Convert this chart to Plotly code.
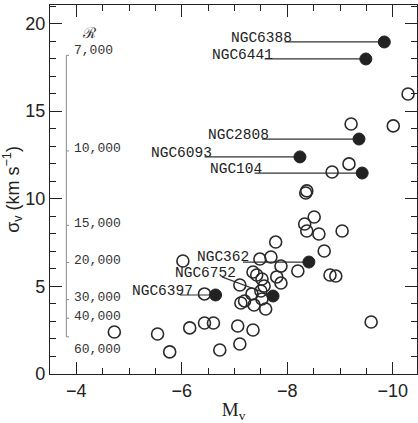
import plotly.graph_objects as go

# ---------------- data ----------------
# open circles: absolute magnitude M_V and velocity dispersion sigma_v (km/s)
open_mv = [-10.29, -9.21, -10.01, -9.17, -8.85, -8.35, -8.37, -8.51, -8.33, -8.37,
           -8.60, -9.04, -7.78, -8.70, -7.69, -7.48, -7.88, -8.20, -8.81, -8.92,
           -7.35, -7.42, -7.52, -7.80, -7.88, -7.10, -7.56, -7.33, -7.50, -7.52,
           -7.19, -7.12, -7.37, -7.59, -6.43, -6.43, -6.60, -7.06, -7.35, -7.10,
           -6.72, -4.72, -5.54, -5.77, -6.15, -6.02, -9.59]
open_sig = [15.98, 14.27, 14.16, 11.99, 11.53, 10.33, 10.45, 8.96, 8.56, 8.16,
            7.99, 8.16, 7.53, 7.02, 6.68, 6.56, 6.16, 5.88, 5.65, 5.59,
            5.82, 5.65, 5.42, 5.54, 5.19, 5.08, 5.02, 4.57, 4.74, 4.28,
            4.17, 4.05, 3.94, 3.71, 4.57, 2.91, 2.91, 2.74, 2.51, 1.71,
            1.37, 2.40, 2.28, 1.26, 2.63, 6.45, 2.97]

# labelled clusters (filled circles)
named = ["NGC6388", "NGC6441", "NGC2808", "NGC6093", "NGC104", "NGC362", "NGC6752", "NGC6397"]
named_mv = [-9.84, -9.49, -9.36, -8.24, -9.42, -8.41, -7.73, -6.64]
named_sig = [18.95, 17.98, 13.41, 12.39, 11.47, 6.39, 4.45, 4.51]

# resolving-power scale R = c / (2.355 sigma)
r_values = [7000, 10000, 15000, 20000, 30000, 40000, 60000]
r_labels = ["7,000", "10,000", "15,000", "20,000", "30,000", "40,000", "60,000"]
C_KMS = 299792.458

x_ticks = [-4, -6, -8, -10]
x_tick_text = ["\u22124", "\u22126", "\u22128", "\u221210"]
y_ticks = [0, 5, 10, 15, 20]

# ---------------- layout helpers (positions only) ----------------
# label text right-end (M_V), label baseline (sigma), leader start (M_V, sigma)
label_pos = {
    "NGC6388": (-8.11, 18.95, -7.95, 18.95),
    "NGC6441": (-7.75, 17.98, -7.57, 17.98),
    "NGC2808": (-7.67, 13.41, -7.52, 13.41),
    "NGC6093": (-6.59, 12.39, -6.43, 12.39),
    "NGC104":  (-7.54, 11.47, -7.38, 11.47),
    "NGC362":  (-7.29, 6.45, -7.16, 6.39),
    "NGC6752": (-7.04, 5.55, -6.76, 5.54),
    "NGC6397": (-6.24, 4.51, -5.96, 4.51),
}
INK = "#222222"

fig = go.Figure()

# leader lines
for name, mv, sg in zip(named, named_mv, named_sig):
    tx, ty, lx, ly = label_pos[name]
    fig.add_trace(go.Scatter(x=[lx, mv], y=[ly, sg], mode="lines",
                             line=dict(color="#333333", width=1.2),
                             hoverinfo="skip", showlegend=False))
    fig.add_annotation(x=tx, y=ty, xref="x", yref="y", text=name,
                       showarrow=False, xanchor="right", yanchor="bottom",
                       yshift=-5, borderpad=0,
                       font=dict(family="Liberation Mono", size=14.5, color=INK))

fig.add_trace(go.Scatter(x=open_mv, y=open_sig, mode="markers",
                         marker=dict(symbol="circle-open", size=12,
                                     line=dict(color="#2a2a2a", width=1.6), color="#2a2a2a"),
                         showlegend=False))
fig.add_trace(go.Scatter(x=named_mv, y=named_sig, mode="markers",
                         marker=dict(symbol="circle", size=12, color="#222222",
                                     line=dict(color="#222222", width=1)),
                         showlegend=False))

# resolving power scale
r_x = -3.81
r_sig = [C_KMS / (2.355 * r) for r in r_values]
fig.add_trace(go.Scatter(x=[r_x, r_x], y=[r_sig[0], r_sig[-1]], mode="lines",
                         line=dict(color="#888888", width=1), hoverinfo="skip",
                         showlegend=False))
label_shift = {"7,000": 5, "60,000": -13}
for s, lab in zip(r_sig, r_labels):
    fig.add_shape(type="line", xref="x", yref="y", x0=r_x, x1=r_x - 0.05, y0=s, y1=s,
                  line=dict(color="#888888", width=1))
    fig.add_annotation(x=r_x - 0.1, y=s, xref="x", yref="y", text=lab, showarrow=False,
                       xanchor="left", yanchor="middle", yshift=label_shift.get(lab, 2),
                       font=dict(family="Liberation Mono", size=13, color="#333333"))
fig.add_annotation(x=r_x - 0.25, y=r_sig[0], xref="x", yref="y", text="\u211b",
                   showarrow=False, xanchor="left", yanchor="middle", yshift=22,
                   font=dict(family="DejaVu Serif", size=15, color="#333333"))

axis_common = dict(showline=True, linecolor=INK, linewidth=1.3, mirror="ticks",
                   ticks="inside", tickcolor=INK, tickwidth=1.3, showgrid=False,
                   zeroline=False, automargin=False,
                   tickfont=dict(family="Liberation Sans", size=18, color=INK))

fig.update_xaxes(range=[-3.5, -10.46], tickvals=x_ticks, ticktext=x_tick_text, ticklen=12,
                 minor=dict(dtick=0.5, ticks="inside", ticklen=6, tickcolor=INK, tickwidth=1.2),
                 title=dict(text="M<sub>v</sub>", standoff=4,
                            font=dict(family="Liberation Serif", size=19, color=INK)),
                 **axis_common)
fig.update_yaxes(range=[0, 21.06], tickvals=y_ticks, ticklen=12,
                 minor=dict(dtick=1, ticks="inside", ticklen=6, tickcolor=INK, tickwidth=1.2),
                 title=dict(text="\u03c3<sub>v</sub> (km s<sup>\u22121</sup>)", standoff=2,
                            font=dict(family="Liberation Sans", size=18, color=INK)),
                 **axis_common)

fig.update_layout(width=418, height=423, margin=dict(l=50, r=1, t=5, b=49),
                  paper_bgcolor="white", plot_bgcolor="white", showlegend=False)

fig.write_html("out.html", config={"displayModeBar": False},
               post_script="document.body.style.margin='0';document.body.style.overflow='hidden';")
